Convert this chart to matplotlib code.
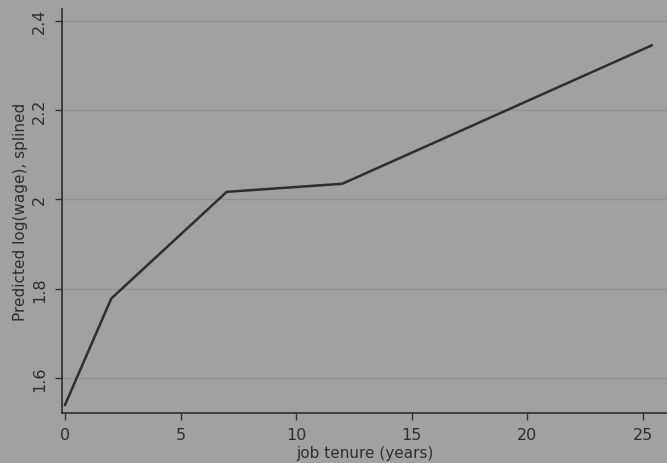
import matplotlib.pyplot as plt
import numpy as np

# knots of the splined prediction
tenure = [0, 2, 7, 12, 25.4]
pred = [1.540, 1.778, 2.017, 2.035, 2.345]

xticks = [0, 5, 10, 15, 20, 25]
yticks = [1.6, 1.8, 2.0, 2.2, 2.4]

bg = '#a1a1a1'
ink = '#2e2e2e'

fig = plt.figure(figsize=(6.67, 4.64), dpi=100, facecolor=bg)
ax = fig.add_axes([0.093, 0.108, 0.907, 0.871])
ax.set_facecolor(bg)

ax.plot(tenure, pred, color=ink, lw=1.8, solid_joinstyle='miter')

ax.set_xlim(-0.13, 26.06)
ax.set_ylim(1.522, 2.427)
ax.set_xticks(xticks)
ax.set_xticklabels([str(t) for t in xticks])
ax.set_yticks(yticks)
ax.set_yticklabels(['1.6', '1.8', '2', '2.2', '2.4'], rotation=90, va='center')

# faint horizontal rules at the y ticks
ax.grid(axis='y', color='#929292', lw=0.9)
ax.set_axisbelow(True)
for s in ['top', 'right']:
    ax.spines[s].set_visible(False)
for s in ['left', 'bottom']:
    ax.spines[s].set_color(ink)
    ax.spines[s].set_linewidth(1.2)
ax.tick_params(colors=ink, labelcolor=ink, labelsize=11.5, length=5, width=1.0)
ax.tick_params(axis='y', pad=6)
ax.tick_params(axis='x', pad=5)

ax.set_xlabel('job tenure (years)', color=ink, fontsize=11, labelpad=2)
ax.set_ylabel('Predicted log(wage), splined', color=ink, fontsize=11, labelpad=3)

fig.savefig('out.png', dpi=100, facecolor=bg)
